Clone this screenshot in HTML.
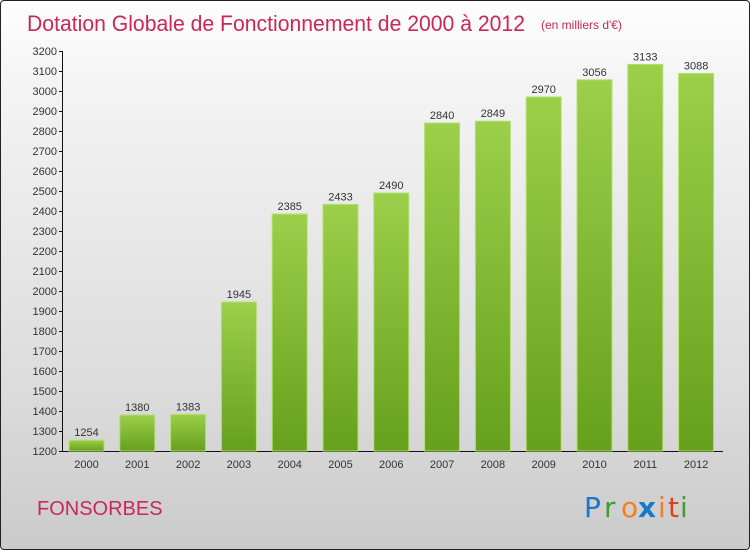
<!DOCTYPE html>
<html><head><meta charset="utf-8"><style>
body{margin:0;width:750px;height:550px;overflow:hidden;font-family:"Liberation Sans",sans-serif}
#wrap{position:absolute;left:0;top:0;width:748px;height:548px;border:1px solid #222;border-radius:4px;background:linear-gradient(#fefefe,#f4f4f4 15%,#dcdcdc 70%,#cbcbcb);overflow:hidden}
</style></head><body>
<div id="wrap">
<svg width="750" height="550" id="svg">
<defs><linearGradient id="g" x1="0" y1="0" x2="0" y2="1"><stop offset="0" stop-color="#9ccf4a"/><stop offset="1" stop-color="#66a01c"/></linearGradient></defs>
<text x="26" y="30" font-size="22" fill="#c8285a" textLength="498" lengthAdjust="spacingAndGlyphs">Dotation Globale de Fonctionnement de 2000 à 2012</text>
<text x="540" y="28" font-size="12" fill="#c8285a">(en milliers d'€)</text>
<text x="36" y="514" font-size="20" fill="#c8285a">FONSORBES</text>
<g font-size="28" font-family="'DejaVu Sans',sans-serif">
<text x="583" y="516" fill="#1a78c8">P</text><text x="603" y="516" fill="#3aa02a">r</text><text x="620" y="516" fill="#f08020">o</text><text x="637" y="516" fill="#1a78c8" font-weight="bold">x</text><text x="657" y="516" fill="#f08020">i</text><text x="667" y="516" fill="#e04020">t</text><text x="679" y="516" fill="#3aa02a">i</text></g>
<g id="axes"></g><g id="bars"></g>
</svg></div>
<script>
const years=["2000","2001","2002","2003","2004","2005","2006","2007","2008","2009","2010","2011","2012"];
const values=[1254,1380,1383,1945,2385,2433,2490,2840,2849,2970,3056,3133,3088];
const yTicks=[1200,1300,1400,1500,1600,1700,1800,1900,2000,2100,2200,2300,2400,2500,2600,2700,2800,2900,3000,3100,3200];
const NS="http://www.w3.org/2000/svg";
const y=v=>450-(v-1200)*0.2;
const x=i=>85.5+i*50.8;
function mk(t,a,p){const e=document.createElementNS(NS,t);for(const k in a)e.setAttribute(k,a[k]);p.appendChild(e);return e;}
const ax=document.getElementById('axes'),bs=document.getElementById('bars');
let l=mk('line',{x1:61.5,y1:50,x2:61.5,y2:450.5,stroke:'#111'},ax);


l=mk('line',{x1:61,y1:450.5,x2:722,y2:450.5,stroke:'#111'},ax);


yTicks.forEach(v=>{
 mk('line',{x1:58,x2:62,y1:y(v)+.5,y2:y(v)+.5,stroke:'#111'},ax);
 const t=mk('text',{x:56,y:y(v)+4,'font-size':11,fill:'#333','text-anchor':'end'},ax);t.textContent=v;
 
 
});
years.forEach((yr,i)=>{
 const r=mk('rect',{x:x(i)-17.5,y:y(values[i]),width:35,height:450-y(values[i]),fill:'url(#g)',stroke:'#b4e070','stroke-width':1},bs);
 
 
 const vt=mk('text',{x:x(i),y:y(values[i])-4,'font-size':11,fill:'#333','text-anchor':'middle'},bs);vt.textContent=values[i];
 
 
 const t=mk('text',{x:x(i),y:467,'font-size':11,fill:'#333','text-anchor':'middle'},ax);t.textContent=yr;
 
 
});
</script>
</body></html>
